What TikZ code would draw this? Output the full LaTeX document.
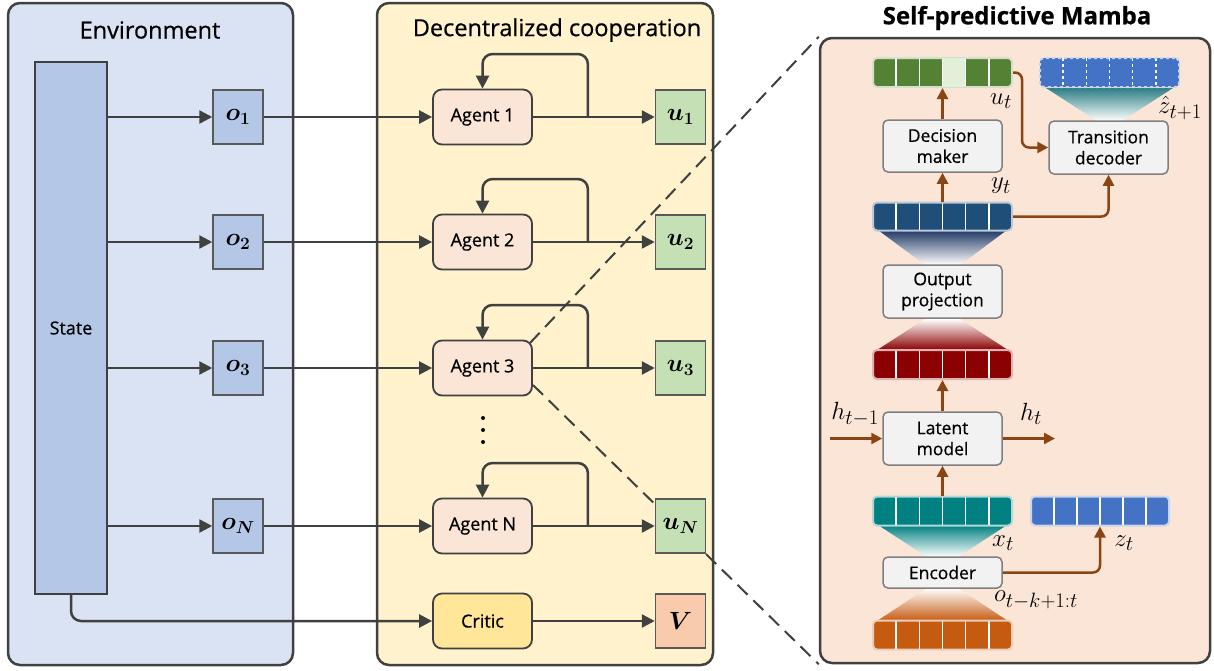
\documentclass[tikz,border=0pt]{standalone}
\usepackage{fontspec}
\setmainfont{Open Sans}[FakeBold=0.6]
\usepackage{amsmath,bm}
\usetikzlibrary{arrows.meta,calc}
\definecolor{linec}{HTML}{404040}
\definecolor{boxline}{HTML}{595959}
\definecolor{envfill}{HTML}{DAE3F3}
\definecolor{coopfill}{HTML}{FFF2CC}
\definecolor{mambafill}{HTML}{FBE5D6}
\definecolor{statefill}{HTML}{B4C7E7}
\definecolor{agentfill}{HTML}{FBE5D6}
\definecolor{ufill}{HTML}{C5E0B4}
\definecolor{criticfill}{HTML}{FFE699}
\definecolor{vfill}{HTML}{F8CBAD}
\definecolor{mboxfill}{HTML}{F2F2F2}
\definecolor{mboxline}{HTML}{7F7F7F}
\definecolor{brownc}{HTML}{8B4513}
\definecolor{greenc}{HTML}{548235}
\definecolor{lightgreenc}{HTML}{E2F0D9}
\definecolor{bluec}{HTML}{4472C4}
\definecolor{darkbluec}{HTML}{1F4E79}
\definecolor{redc}{HTML}{8B0000}
\definecolor{tealc}{HTML}{008080}
\definecolor{orangec}{HTML}{C55A11}
\definecolor{trapteal}{HTML}{2C7F86}
\definecolor{trapblue}{HTML}{1F3864}
\newcommand\boxfont{\fontsize{17.5}{21}\selectfont}
\newcommand\agentfont{\fontsize{18}{21}\selectfont}
\newcommand\titlefont{\fontsize{23.5}{27}\selectfont}
\newcommand\mathlbl{\fontsize{28}{28}\selectfont}
\begin{document}
\begin{tikzpicture}[x=1pt,y=-1pt,
  panel/.style={draw=linec, line width=2.5pt, rounded corners=12pt, inner sep=0},
  obox/.style={draw=boxline, fill=statefill, line width=1.5pt, minimum width=50pt, minimum height=54pt, inner sep=0, font=\fontsize{26}{26}\selectfont},
  ubox/.style={obox, fill=ufill},
  agent/.style={draw=linec, fill=agentfill, line width=1.8pt, rounded corners=9pt, minimum width=99pt, minimum height=55pt, inner sep=0, font=\agentfont},
  flow/.style={draw=linec, line width=2.5pt, -{Triangle[length=13pt,width=13pt]}},
  sflow/.style={draw=brownc, line width=2.5pt, rounded corners=7pt, -{Triangle[length=11pt,width=11pt]}},
  mbox/.style={draw=mboxline, fill=mboxfill, line width=1.5pt, rounded corners=5pt, minimum width=119pt, minimum height=52pt, inner sep=0, align=center, font=\boxfont},
  arr/.style={minimum width=139pt, minimum height=29pt, rounded corners=4pt, inner sep=0, line width=2pt,
    path picture={\foreach \i in {1,...,5}{\draw[white,line width=1.6pt] ($(path picture bounding box.north west)!\i/6!(path picture bounding box.north east)$) -- ($(path picture bounding box.south west)!\i/6!(path picture bounding box.south east)$);}}},
  dashconn/.style={draw=linec, line width=2pt, dash pattern=on 14pt off 8pt},
  mlabel/.style={font=\mathlbl, inner sep=0}
]
\useasboundingbox (0,0) rectangle (1214,670);

% panels
\node[panel, fill=envfill, minimum width=285pt, minimum height=662pt] (env) at (150.5,334) {};
\node[panel, fill=coopfill, minimum width=336pt, minimum height=662pt] (coop) at (545,334) {};
\node[panel, fill=mambafill, minimum width=390pt, minimum height=625pt] (mamba) at (1015,350.5) {};
\node[font=\titlefont] (envt) at (150,30) {Environment};
\node[font=\titlefont] (coopt) at (557,30) {Decentralized cooperation};
\node[font=\fontsize{24}{28}\selectfont\bfseries] (mambat) at (1017,18) {Self-predictive Mamba};

% dashed zoom lines (behind the boxes)
\coordinate (d1) at (530,343);
\coordinate (d2) at (533,385);
\draw[dashconn] (d1) -- (mamba.north west);
\draw[dashconn] (d2) -- (mamba.south west);

% environment
\node[draw=linec, fill=statefill, line width=1.8pt, minimum width=72pt, minimum height=532pt, inner sep=0, font=\agentfont] (state) at (71,328) {State};
\node[obox] (o1) at (238,117) {$\bm{o_1}$};
\node[obox] (o2) at (238,242) {$\bm{o_2}$};
\node[obox] (o3) at (238,368) {$\bm{o_3}$};
\node[obox] (oN) at (238,526) {$\bm{o_N}$};

% agents
\node[agent] (a1) at (482.5,117) {Agent 1};
\node[agent] (a2) at (482.5,242) {Agent 2};
\node[agent] (a3) at (482.5,368) {Agent 3};
\node[agent] (aN) at (482.5,526) {Agent N};
\node[agent, fill=criticfill] (critic) at (482.5,621) {Critic};
\node[ubox] (u1) at (680.5,117) {$\bm{u_1}$};
\node[ubox] (u2) at (680.5,242) {$\bm{u_2}$};
\node[ubox] (u3) at (680.5,368) {$\bm{u_3}$};
\node[ubox] (uN) at (680.5,526) {$\bm{u_N}$};
\node[obox, fill=vfill] (V) at (680.5,621) {$\bm{V}$};
\foreach \yy in {418,430,442} \fill[black] (483,\yy) circle (2pt);

% connectors left/middle
\foreach \n in {1,2,3,N}{
  \draw[flow] (state.east |- o\n) -- (o\n);
  \draw[flow] (o\n) -- (a\n);
  \draw[flow] (a\n) -- (u\n);
  \draw[flow, rounded corners=10pt] ($(a\n.east)+(55,0)$) -- ++(0,-63) -| (a\n.north);
}
\draw[flow, rounded corners=10pt] (state.south) -- (state.south |- critic) -- (critic.west);
\draw[flow] (critic) -- (V);

% Mamba internals: gradients
\shade[top color=trapteal, bottom color=white] (1046,88) -- (1173,88) -- (1122,121) -- (1097,121) -- cycle;
\shade[top color=trapblue, bottom color=white] (878,230) -- (1007,230) -- (960,265) -- (925,265) -- cycle;
\shade[top color=white, bottom color=redc] (925,319) -- (960,319) -- (1008,350) -- (877,350) -- cycle;
\shade[top color=tealc, bottom color=white] (878,525) -- (1007,525) -- (958,557) -- (927,557) -- cycle;
\shade[top color=white, bottom color=orangec] (927,588) -- (958,588) -- (1008,621) -- (877,621) -- cycle;

% arrays
\node[arr, fill=greenc, draw=greenc!25!white] (uarr) at (942.5,72.5) {};
\fill[lightgreenc] ($(uarr.north west)!3/6!(uarr.north east)+(0.8,1)$) rectangle ($(uarr.south west)!4/6!(uarr.south east)+(-0.8,-1)$);
\node[arr, fill=bluec, draw=bluec!30!white, dashed] (zharr) at (1109.5,72.5) {};
\node[arr, fill=darkbluec, draw=darkbluec!30!white, minimum height=28pt] (yarr) at (942.5,216.5) {};
\node[arr, fill=redc, draw=redc!30!white] (harr) at (942.5,364.5) {};
\node[arr, fill=tealc, draw=tealc!30!white] (xarr) at (942.5,511) {};
\node[arr, fill=bluec, draw=bluec!30!white, minimum width=138pt] (zarr) at (1100,511) {};
\node[arr, fill=orangec, draw=orangec!30!white] (oarr) at (942.5,635) {};

% boxes
\node[mbox] (dm) at (942.5,146) {Decision\\maker};
\node[mbox, minimum height=53pt] (td) at (1108.5,147.5) {Transition\\decoder};
\node[mbox, minimum height=53pt] (op) at (942.5,291.5) {Output\\projection};
\node[mbox, minimum height=53pt] (lm) at (942.5,438.5) {Latent\\model};
\node[mbox, minimum height=31pt] (enc) at (942.5,572.5) {Encoder};

% brown arrows
\draw[sflow] (dm) -- (uarr);
\draw[sflow] (uarr.east) -- ++(9,0) |- (td.west);
\draw[sflow] (yarr) -- (dm);
\draw[sflow] (yarr.east) -| (td.south);
\draw[sflow] (lm) -- (harr);
\coordinate (hin) at (830,438.5);
\coordinate (hout) at (1055,438.5);
\draw[sflow] (hin) -- (lm.west);
\draw[sflow] (lm.east) -- (hout);
\draw[sflow] (xarr) -- (lm);
\draw[sflow] (enc.east) -| (zarr.south);

% math labels
\node[mlabel] (lu) at (1001,101) {$u_t$};
\node[mlabel] (lzh) at (1180,108) {$\hat{z}_{t+1}$};
\node[mlabel] (ly) at (1001,186) {$y_t$};
\node[mlabel] (lh1) at (855,414) {$h_{t-1}$};
\node[mlabel] (lh) at (1031,414) {$h_t$};
\node[mlabel] (lx) at (1003,543) {$x_t$};
\node[mlabel] (lz) at (1124,543) {$z_t$};
\node[mlabel] (lo) at (1036,600) {$o_{t-k+1:t}$};
\end{tikzpicture}
\end{document}
